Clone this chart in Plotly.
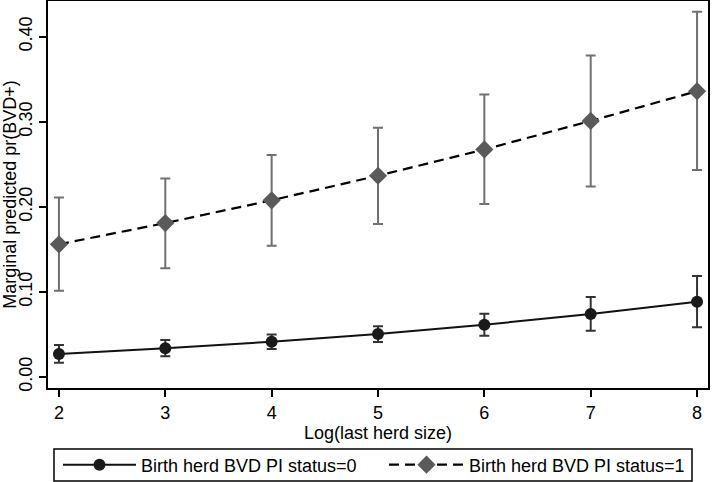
import plotly.graph_objects as go

x_vals = [2, 3, 4, 5, 6, 7, 8]

pi0_mean = [0.027, 0.0337, 0.0415, 0.0505, 0.0615, 0.074, 0.0885]
pi0_upper = [0.0376, 0.0435, 0.050, 0.0596, 0.0744, 0.094, 0.1187]
pi0_lower = [0.0168, 0.0243, 0.0329, 0.0411, 0.0485, 0.0544, 0.0584]

pi1_mean = [0.156, 0.181, 0.2077, 0.2366, 0.2675, 0.301, 0.336]
pi1_upper = [0.211, 0.2335, 0.261, 0.293, 0.332, 0.378, 0.4295]
pi1_lower = [0.1015, 0.128, 0.1544, 0.180, 0.2033, 0.224, 0.2433]

y_ticks = [0.0, 0.1, 0.2, 0.3, 0.4]
y_tick_labels = ["0.00", "0.10", "0.20", "0.30", "0.40"]

names = ["Birth herd BVD PI status=0", "Birth herd BVD PI status=1"]

FONT = "Liberation Sans, Arial, sans-serif"

fig = go.Figure()

fig.add_trace(go.Scatter(
    x=x_vals, y=pi0_mean, mode="lines+markers", name=names[0], legend="legend",
    line=dict(color="#111111", width=2),
    marker=dict(symbol="circle", size=12, color="#1a1a1a"),
    error_y=dict(type="data", symmetric=False,
                 array=[u - m for u, m in zip(pi0_upper, pi0_mean)],
                 arrayminus=[m - l for m, l in zip(pi0_mean, pi0_lower)],
                 color="#333333", thickness=2, width=5),
))

fig.add_trace(go.Scatter(
    x=x_vals, y=pi1_mean, mode="lines+markers", name=names[1], legend="legend2",
    line=dict(color="#000000", width=2.2, dash="10px,6px"),
    marker=dict(symbol="diamond", size=14, color="#5a5a5a"),
    error_y=dict(type="data", symmetric=False,
                 array=[u - m for u, m in zip(pi1_upper, pi1_mean)],
                 arrayminus=[m - l for m, l in zip(pi1_mean, pi1_lower)],
                 color="#707070", thickness=2, width=5),
))

legend_common = dict(orientation="h", xanchor="left", y=-0.199, yanchor="middle",
                     font=dict(size=18), bgcolor="rgba(0,0,0,0)", borderwidth=0)

fig.update_layout(
    width=712, height=482,
    margin=dict(l=48, r=4, t=1, b=94, autoexpand=False),
    paper_bgcolor="white", plot_bgcolor="white",
    font=dict(family=FONT, size=18, color="#000000"),
    showlegend=True,
    legend=dict(x=(58 - 48) / 660, itemwidth=73, **legend_common),
    legend2=dict(x=(384 - 48) / 660, itemwidth=75, **legend_common),
    shapes=[dict(type="rect", xref="paper", yref="paper",
                 x0=(54 - 48) / 660, x1=(692 - 48) / 660,
                 y0=(388 - 481) / 387, y1=(388 - 449) / 387,
                 line=dict(color="#000000", width=1.5), fillcolor="rgba(0,0,0,0)")],
)

fig.update_xaxes(
    range=[1.897, 8.103], tickvals=x_vals, ticktext=[str(v) for v in x_vals],
    ticks="outside", ticklen=7, tickwidth=1.5, tickcolor="#000",
    showline=True, linecolor="#000", linewidth=2, mirror=True,
    showgrid=False, zeroline=False, automargin=False,
    tickfont=dict(size=18),
    title=dict(text="Log(last herd size)", font=dict(size=18), standoff=0),
)

fig.update_yaxes(
    range=[-0.0129, 0.442], tickvals=y_ticks, ticktext=y_tick_labels,
    ticks="outside", ticklen=7, tickwidth=1.5, tickcolor="#000",
    showline=True, linecolor="#000", linewidth=2, mirror=True,
    showgrid=False, zeroline=False, tickangle=-90, automargin=False,
    tickfont=dict(size=18),
    title=dict(text="Marginal predicted pr(BVD+)", font=dict(size=18), standoff=2),
)

fig.write_html("out.html", config={"displayModeBar": False},
               post_script="document.body.style.margin='0';document.body.style.overflow='hidden';")
